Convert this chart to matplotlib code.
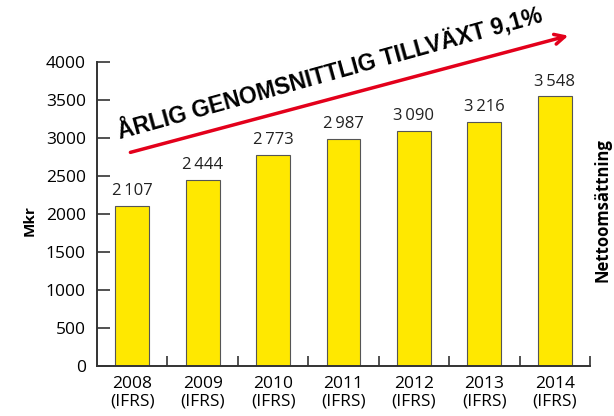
import matplotlib
matplotlib.use('Agg')
import matplotlib.pyplot as plt

years = ['2008', '2009', '2010', '2011', '2012', '2013', '2014']
tick_labels = [y + '\n(IFRS)' for y in years]
values = [2107, 2444, 2773, 2987, 3090, 3216, 3548]
value_labels = ['2\u2009107', '2\u2009444', '2\u2009773', '2\u2009987', '3\u2009090', '3\u2009216', '3\u2009548']
y_ticks = [0, 500, 1000, 1500, 2000, 2500, 3000, 3500, 4000]

plt.rcParams['font.family'] = ['Open Sans', 'DejaVu Sans']

fig = plt.figure(figsize=(6.14, 4.16), dpi=100)
ax = fig.add_axes([0.158, 0.120, 0.803, 0.731])

x = list(range(len(years)))
ax.bar(x, values, width=0.48, color='#FFE800', edgecolor='#555555', linewidth=0.8, zorder=2)

# siffror ovanför staplarna
for xi, v, lab in zip(x, values, value_labels):
    ax.text(xi, v + 90, lab, ha='center', va='bottom', fontsize=12, color='#222222')

ax.set_xlim(-0.5, 6.5)
ax.set_ylim(0, 4000)
ax.set_yticks(y_ticks)
ax.set_yticklabels([str(t) for t in y_ticks], fontsize=12.5)
ax.tick_params(axis='y', direction='in', length=9, width=1.2, color='#333333', pad=8)

# x-axelns streck mellan kategorierna
ax.set_xticks([i + 0.5 for i in x])
ax.set_xticklabels([])
ax.set_xticks(x, minor=True)
ax.set_xticklabels(tick_labels, minor=True, fontsize=12.5, linespacing=1.15)
ax.tick_params(axis='x', which='major', direction='in', length=7, width=1.2, color='#333333')
ax.tick_params(axis='x', which='minor', length=0, pad=7)

for side in ['top', 'right']:
    ax.spines[side].set_visible(False)
for side in ['left', 'bottom']:
    ax.spines[side].set_linewidth(1.4)
    ax.spines[side].set_color('#333333')

fig.text(0.048, 0.47, 'Mkr', rotation=90, ha='center', va='center',
         fontsize=11, fontweight='bold')
fig.text(0.982, 0.495, 'Nettoomsättning', rotation=90, ha='center', va='center',
         fontsize=12, fontweight='bold')

# röd pil och rubrik
ax.annotate('', xy=(0.93, 0.916), xycoords='figure fraction',
            xytext=(0.208, 0.632), textcoords='figure fraction',
            arrowprops=dict(arrowstyle='->', color='#E3001B', lw=2.5,
                            mutation_scale=18))
fig.text(0.195, 0.665, 'ÅRLIG GENOMSNITTLIG TILLVÄXT 9,1%', rotation=15.5,
         rotation_mode='anchor', ha='left', va='baseline',
         fontsize=16.5, fontweight='bold',
         family=['Liberation Sans', 'DejaVu Sans'])

fig.savefig('out.png', dpi=100)
